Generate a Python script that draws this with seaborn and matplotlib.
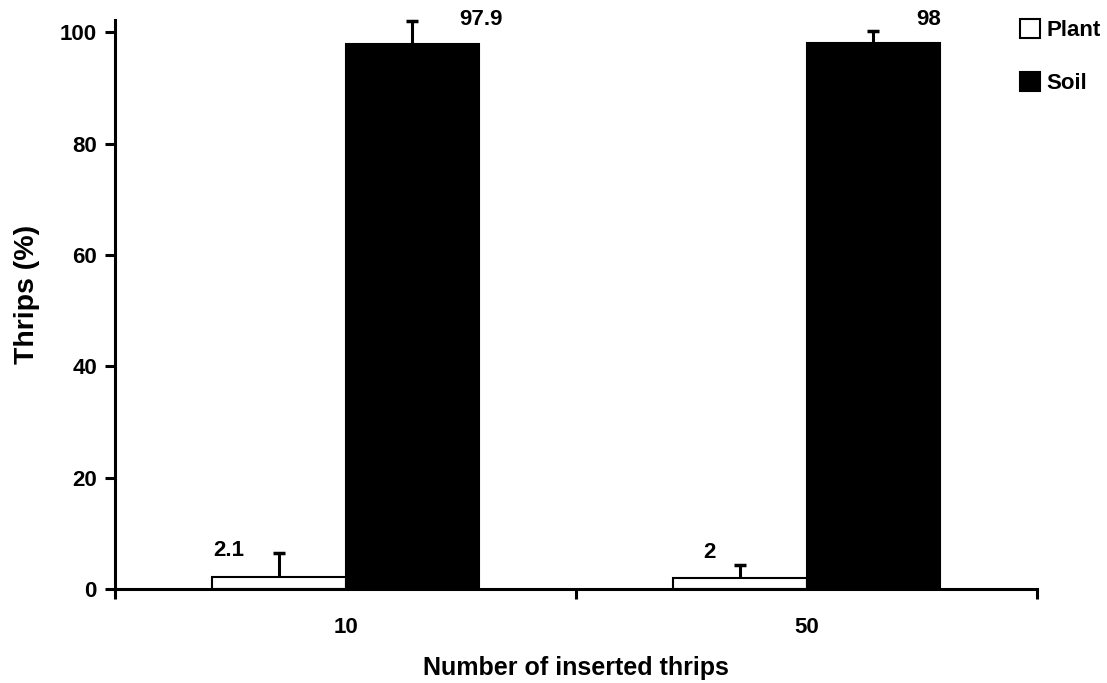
import matplotlib
matplotlib.use("Agg")
import matplotlib.pyplot as plt
import seaborn as sns
import pandas as pd
from matplotlib.patches import Patch

# Data
inserted = ["10", "50"]
locations = ["Plant", "Soil"]
plant_pct = [2.1, 2.0]
soil_pct = [97.9, 98.0]
plant_err = [4.3, 2.3]
soil_err = [4.2, 2.3]
value_labels = {"Plant": ["2.1", "2"], "Soil": ["97.9", "98"]}

df = pd.DataFrame({
    "inserted": inserted * 2,
    "location": ["Plant"] * 2 + ["Soil"] * 2,
    "pct": plant_pct + soil_pct,
    "err": plant_err + soil_err,
})

sns.set_theme(style="white")
plt.rcParams["font.family"] = ["Liberation Sans", "DejaVu Sans"]
plt.rcParams["font.weight"] = "bold"
for key in ["text.color", "axes.labelcolor", "xtick.color", "ytick.color"]:
    plt.rcParams[key] = "black"

fig = plt.figure(figsize=(11.07, 6.83), dpi=100)
ax = fig.add_axes([0.1039, 0.1376, 0.8329, 0.8331])

sns.barplot(data=df, x="inserted", y="pct", hue="location", order=inserted,
            hue_order=locations, palette={"Plant": "white", "Soil": "black"},
            edgecolor="black", linewidth=1.5, width=0.58, errorbar=None,
            legend=False, ax=ax)
bar_groups = list(ax.containers)

# Upward-only error bars and value labels beside each bar
label_dx = {"Plant": [-36, -21.6], "Soil": [49.7, 40]}
label_dy = {"Plant": [2, 9.4], "Soil": [0.7, 8]}
for ci, cont in enumerate(bar_groups):
    loc = locations[ci]
    sub = df[df["location"] == loc].set_index("inserted").loc[inserted]
    xs = [p.get_x() + p.get_width() / 2 for p in cont.patches]
    ys = list(sub["pct"])
    errs = list(sub["err"])
    _, caps, _ = ax.errorbar(xs, ys, yerr=[[0] * len(errs), errs], fmt="none",
                             ecolor="black", elinewidth=2.2, capsize=4.5,
                             capthick=2.5, clip_on=False, zorder=5)
    caps[0].set_visible(False)  # no cap at the bar top
    for i, (x, y, e) in enumerate(zip(xs, ys, errs)):
        ax.annotate(value_labels[loc][i], (x, y + e),
                    xytext=(label_dx[loc][i], label_dy[loc][i]),
                    textcoords="offset points", ha="center", va="center",
                    fontsize=16, fontweight="bold", annotation_clip=False)

ax.set_xlim(-0.5, 1.5)
ax.set_ylim(0, 102.2)
ax.set_yticks([0, 20, 40, 60, 80, 100])

# x ticks sit on category boundaries; labels stay centred under the groups
ax.set_xticks([0, 1])
ax.set_xticks([-0.5, 0.5, 1.5], minor=True)
ax.tick_params(axis="x", which="major", length=0, pad=20, labelsize=16)
ax.tick_params(axis="x", which="minor", direction="out", length=7, width=2.2,
               bottom=True)
ax.tick_params(axis="y", direction="out", length=7, width=2.2, left=True,
               labelsize=16, pad=6)
for lab in ax.get_xticklabels() + ax.get_yticklabels():
    lab.set_fontweight("bold")

for side in ["top", "right"]:
    ax.spines[side].set_visible(False)
for side in ["left", "bottom"]:
    ax.spines[side].set_linewidth(2.2)
    ax.spines[side].set_color("black")

ax.set_xlabel("Number of inserted thrips", fontsize=18, fontweight="bold",
              labelpad=13)
ax.set_ylabel("Thrips (%)", fontsize=20.5, fontweight="bold", labelpad=14.5)
ax.yaxis.label.set_y(0.518)

handles = [Patch(facecolor="white", edgecolor="black", linewidth=1.5),
           Patch(facecolor="black", edgecolor="black", linewidth=1.5)]
fig.legend(handles, locations, loc="upper left",
           bbox_to_anchor=(0.921, 0.972), frameon=False,
           prop={"size": 16, "weight": "bold"}, handlelength=0.9,
           handleheight=0.9, handletextpad=0.3, labelspacing=1.4,
           borderaxespad=0, borderpad=0)

fig.savefig("out.png", dpi=100)
